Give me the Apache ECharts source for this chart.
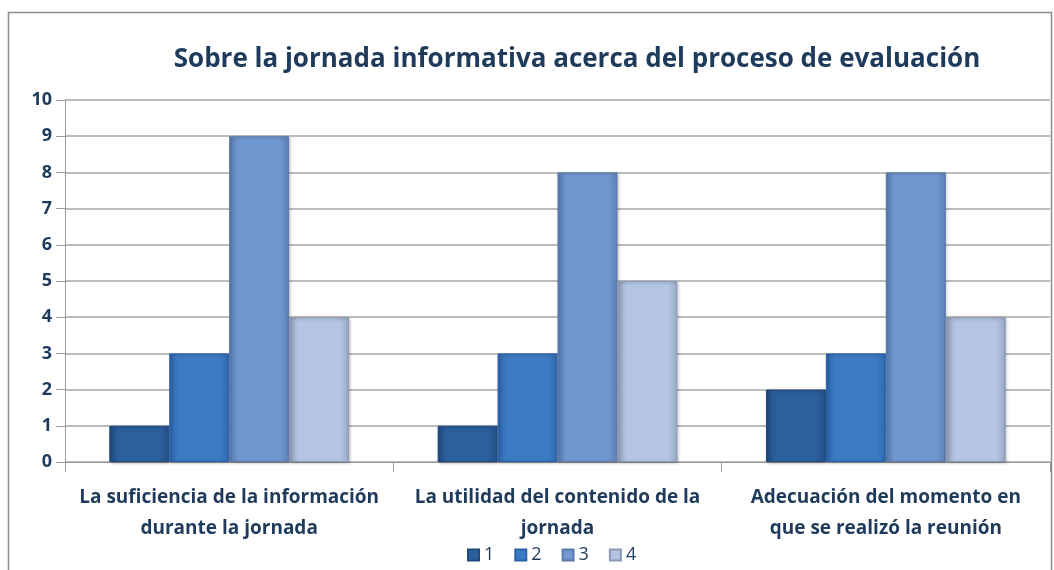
<!DOCTYPE html>
<html>
<head>
<meta charset="utf-8">
<script src="https://cdn.jsdelivr.net/npm/echarts@6/dist/echarts.min.js"></script>
<style>
  html, body { margin: 0; padding: 0; background: #fff; }
  #main { width: 1054px; height: 570px; }
</style>
</head>
<body>
<div id="main"></div>
<script>
// categorias y valores
const categories = [
    'La suficiencia de la información\ndurante la jornada',
    'La utilidad del contenido de la\njornada',
    'Adecuación del momento en\nque se realizó la reunión'
];
const seriesNames = ['1', '2', '3', '4'];
const serie1 = [1, 1, 2];
const serie2 = [3, 3, 3];
const serie3 = [9, 8, 8];
const serie4 = [4, 5, 4];
const yTicks = [0, 1, 2, 3, 4, 5, 6, 7, 8, 9, 10];

const navy = '#1f3b5c';
// colores de cada serie: borde oscuro, centro, borde claro
const palette = [
    ['#1f4a7e', '#2c5f9e', '#244f86'],
    ['#2a62a8', '#3b7bc4', '#2f69b0'],
    ['#5a7aae', '#7097cf', '#5f80b6'],
    ['#8c9ab3', '#b3c5e3', '#98a8c4']
];

function barColor(c) {
    return new echarts.graphic.LinearGradient(0, 0, 1, 0, [
        { offset: 0, color: c[0] },
        { offset: 0.15, color: c[1] },
        { offset: 0.85, color: c[1] },
        { offset: 1, color: c[2] }
    ]);
}

const allData = [serie1, serie2, serie3, serie4];
const myChart = echarts.init(document.getElementById('main'));

const option = {
    animation: false,
    backgroundColor: '#fff',
    title: {
        text: 'Sobre la jornada informativa acerca del proceso de evaluación',
        left: 572,
        textAlign: 'center',
        top: 42,
        textStyle: {
            color: navy,
            fontFamily: 'Open Sans',
            fontWeight: 'bold',
            fontSize: 26
        }
    },
    legend: {
        data: seriesNames,
        left: 462,
        top: 541,
        icon: 'rect',
        itemWidth: 11,
        itemHeight: 11,
        itemGap: 20,
        textStyle: { color: navy, fontFamily: 'Open Sans', fontSize: 18 }
    },
    grid: { left: 65, right: 4, top: 100, bottom: 108, containLabel: false },
    xAxis: {
        type: 'category',
        data: categories,
        axisLine: { lineStyle: { color: '#9a9a9a' } },
        axisTick: { show: true, length: 10, lineStyle: { color: '#9a9a9a' } },
        axisLabel: {
            color: navy,
            fontFamily: 'Open Sans',
            fontWeight: 'bold',
            fontSize: 19,
            lineHeight: 31,
            margin: 20,
            interval: 0
        }
    },
    yAxis: {
        type: 'value',
        min: yTicks[0],
        max: yTicks[yTicks.length - 1],
        interval: 1,
        axisLine: { show: true, lineStyle: { color: '#9a9a9a' } },
        axisTick: { show: true, length: 9, lineStyle: { color: '#9a9a9a' } },
        splitLine: { lineStyle: { color: '#a6a6a6', width: 1.5 } },
        axisLabel: {
            color: navy,
            fontFamily: 'Open Sans',
            fontWeight: 'bold',
            fontSize: 18,
            margin: 13
        }
    },
    series: seriesNames.map((name, i) => ({
        name: name,
        type: 'bar',
        data: allData[i],
        barGap: '0%',
        barCategoryGap: '27%',
        itemStyle: {
            color: barColor(palette[i]),
            borderColor: palette[i][0],
            borderWidth: 1,
            shadowColor: 'rgba(0,0,0,0.25)',
            shadowBlur: 3,
            shadowOffsetX: 1,
            shadowOffsetY: 1
        }
    })),
    graphic: [{
        type: 'rect',
        shape: { x: 8.5, y: 12.5, width: 1043, height: 600 },
        style: { fill: 'none', stroke: '#8c8c8c', lineWidth: 1.5 },
        silent: true,
        z: 100
    }]
};

myChart.setOption(option);
</script>
</body>
</html>
